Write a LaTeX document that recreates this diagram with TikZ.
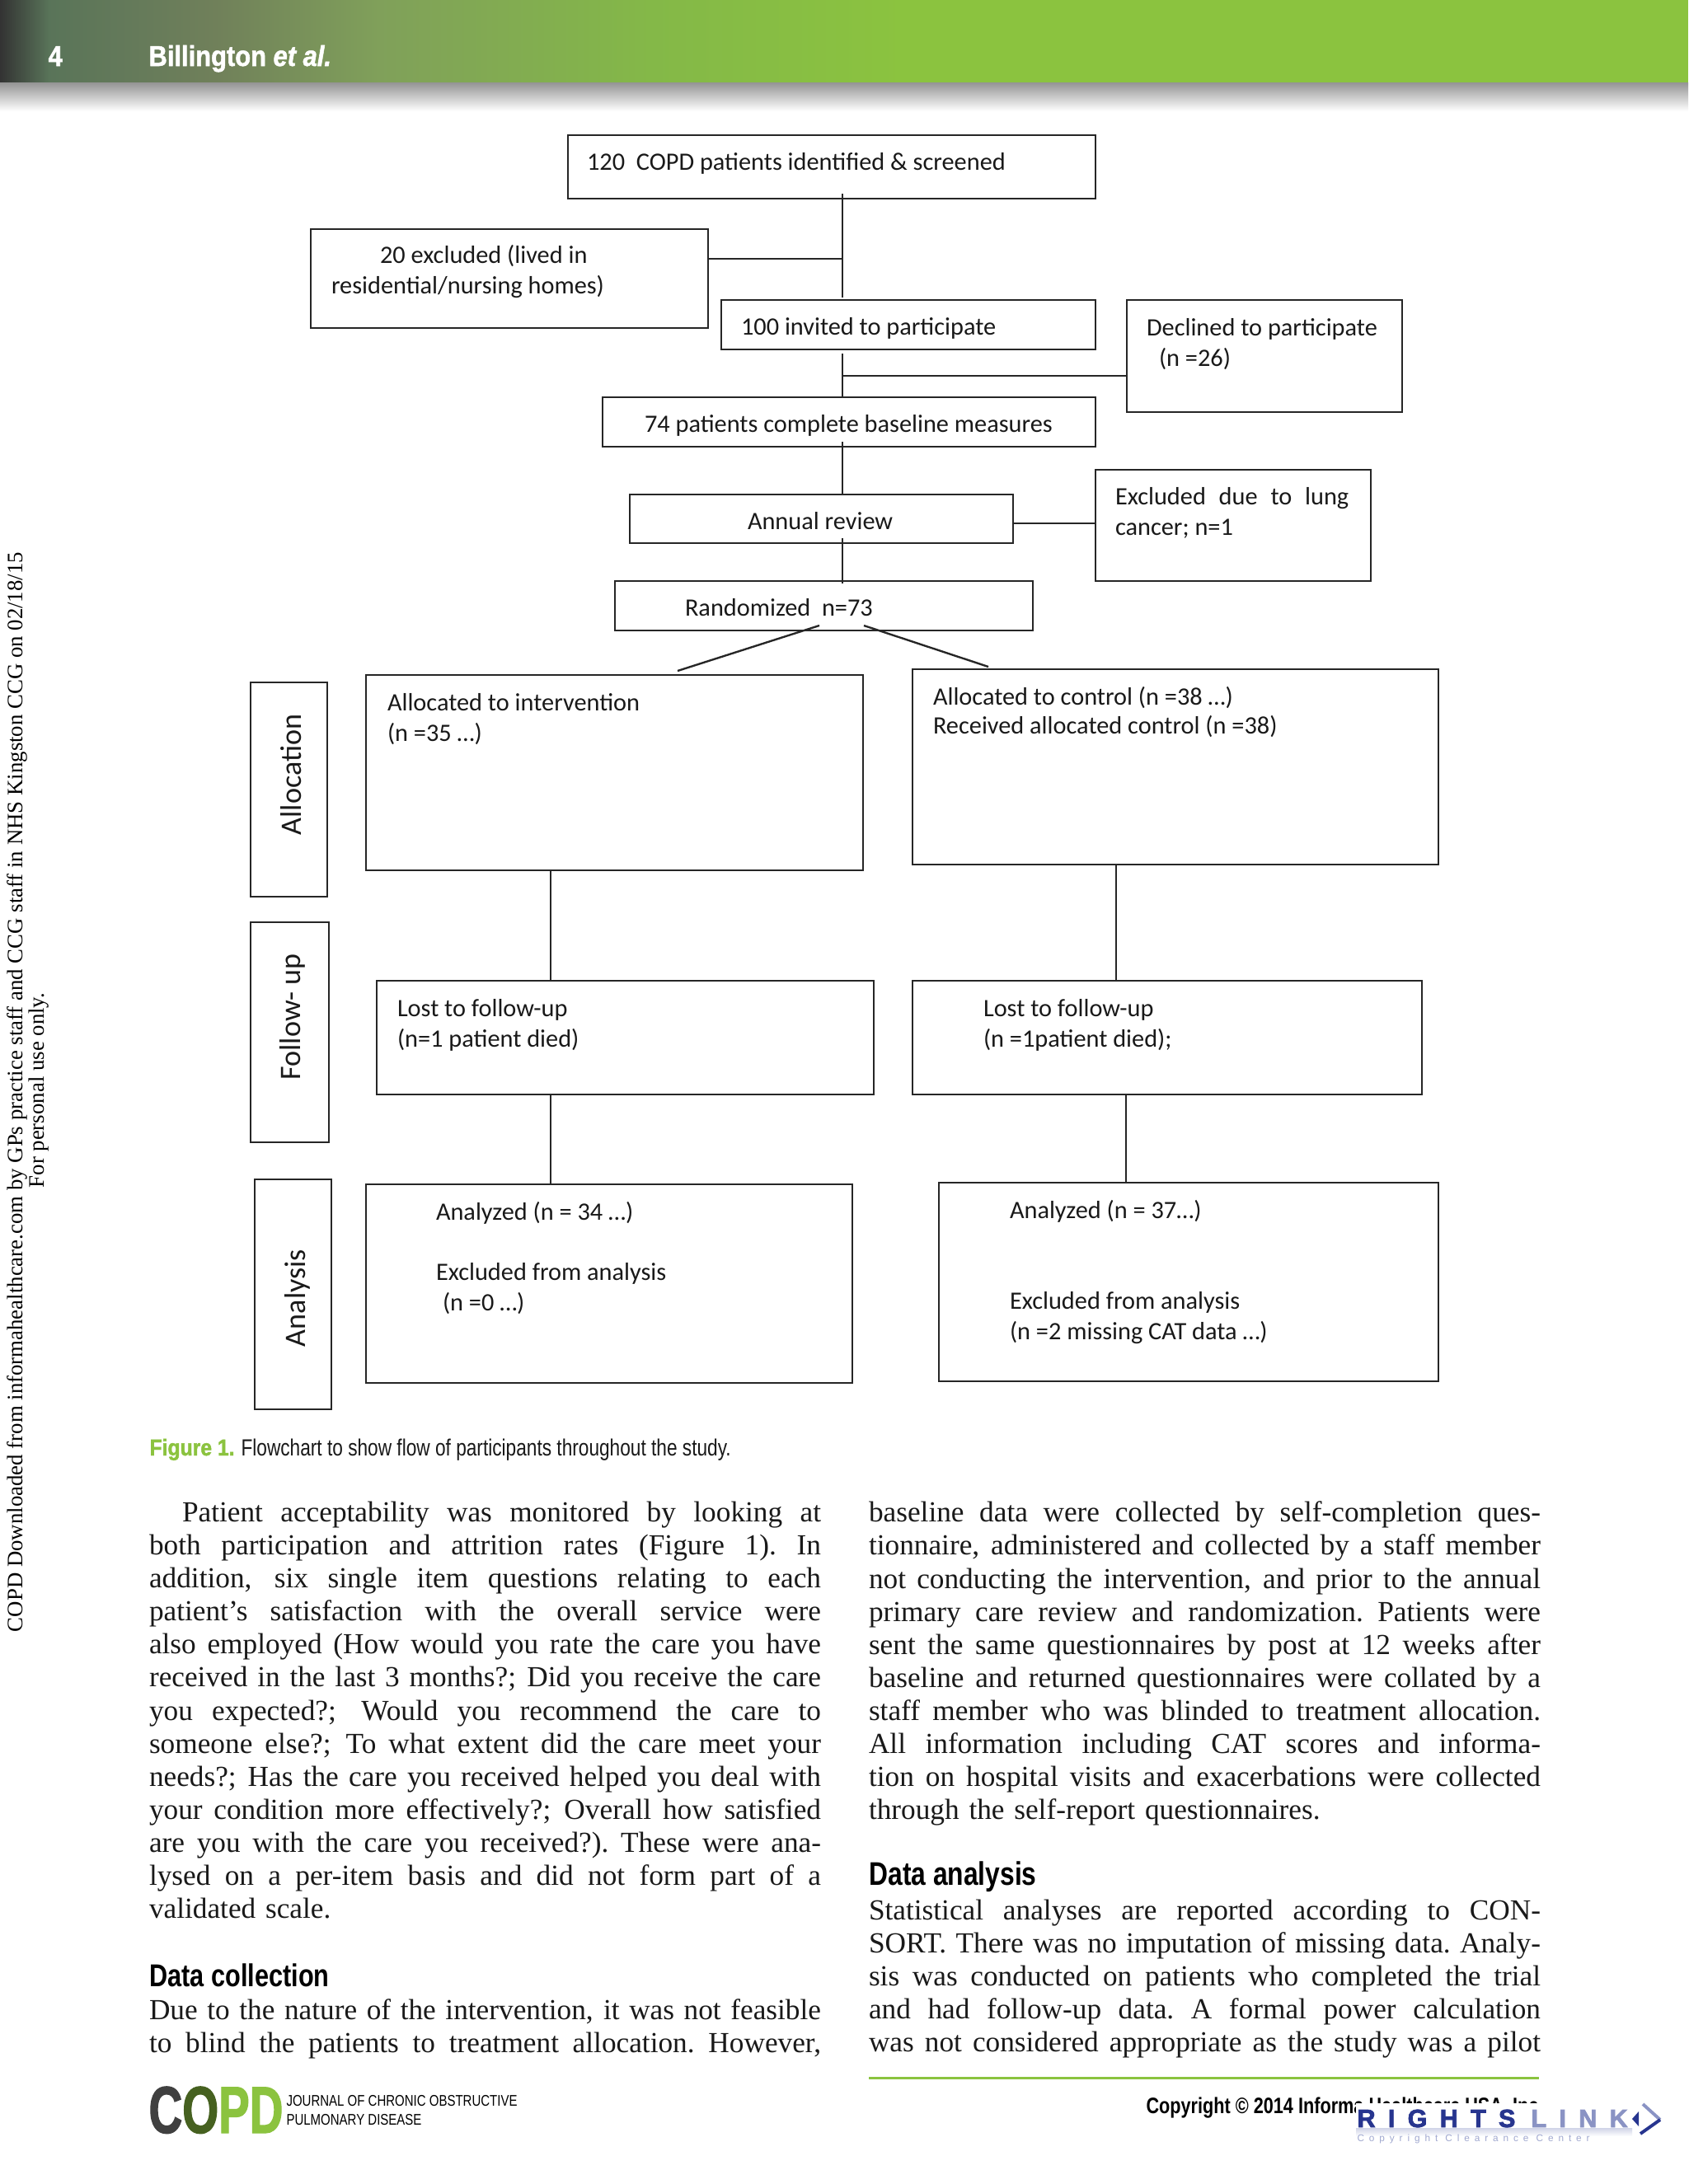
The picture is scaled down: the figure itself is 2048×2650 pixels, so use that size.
\documentclass[tikz,border=0pt]{standalone}
\usepackage{fontspec}
\setmainfont{Liberation Serif}
\newfontfamily\dg{Carlito}
\newfontfamily\cnd[FakeStretch=0.8]{Liberation Sans}
\newfontfamily\hdf[FakeStretch=0.89,BoldFeatures={FakeBold=1.5},BoldItalicFeatures={FakeBold=1.5}]{Liberation Sans}
\newfontfamily\cndx[FakeStretch=0.70,BoldFeatures={FakeBold=1.5}]{Liberation Sans}
\newfontfamily\rlk[LetterSpace=50,BoldFeatures={FakeBold=2.5}]{Liberation Sans}
\newfontfamily\rlc[LetterSpace=50]{Liberation Sans}
\newfontfamily\bodyf[Ligatures=TeX]{Liberation Serif}
\definecolor{hgreen}{HTML}{8BC33F}
\definecolor{rlblue}{HTML}{27358F}
\definecolor{rllight}{HTML}{8A93C4}
\newcommand{\jl}[1]{\hbox to 293.4pt{\spaceskip=0.25em plus 1fil minus 0.07em\relax\xspaceskip=\spaceskip #1}}
\newcommand{\jn}[1]{\hbox{#1}}
\newcommand{\bx}[5]{\node[boxst,minimum width={(#4-#2)*0.36pt},minimum height={(#5-#3)*0.36pt}] (#1) at (#2,#3) {};}
\tikzset{
  boxst/.style={draw=black!85,line width=0.85pt,anchor=north west,inner sep=0pt,outer sep=0pt},
  conn/.style={draw=black!85,line width=0.85pt},
  txt/.style={anchor=base west,inner sep=0pt,outer sep=0pt,font=\dg\fontsize{10.92pt}{13.3pt}\selectfont,text=black!90},
  side/.style={anchor=center,rotate=90,inner sep=0pt,font=\dg\fontsize{13pt}{15pt}\selectfont,text=black!90},
  bodytxt/.style={anchor=north west,inner sep=0pt,outer sep=0pt,text width=293.4pt,font=\bodyf\fontsize{12.7pt}{14.43pt}\selectfont,text=black!90},
  headg/.style={anchor=base west,inner sep=0pt,font=\cnd\bfseries\fontsize{13.8pt}{15pt}\selectfont},
  margintxt/.style={anchor=center,rotate=90,inner sep=0pt,font=\rmfamily\fontsize{9.65pt}{11pt}\selectfont},
}
\begin{document}
\begin{tikzpicture}[x=0.36pt,y=-0.36pt]
\useasboundingbox (0,0) rectangle (2048,2650);
\fill[white] (0,0) rectangle (2048,2650);
% header band
\shade[left color=black!80,right color=black!65!green!30!gray] (0,0) rectangle (60,100);
\shade[left color=black!65!green!30!gray,right color={rgb,255:red,112;green,128;blue,90}] (59,0) rectangle (262,100);
\shade[left color={rgb,255:red,112;green,128;blue,90},right color={rgb,255:red,128;green,160;blue,90}] (261,0) rectangle (460,100);
\shade[left color={rgb,255:red,128;green,160;blue,90},right color={rgb,255:red,132;green,184;blue,72}] (459,0) rectangle (790,100);
\shade[left color={rgb,255:red,132;green,184;blue,72},right color=hgreen] (789,0) rectangle (1100,100);
\fill[hgreen] (1099,0) rectangle (2048,100);
\shade[top color=black!42,bottom color=white] (0,100) rectangle (2048,135);
\node[anchor=base west,inner sep=0pt,text=white,font=\hdf\bfseries\fontsize{12.5pt}{14pt}\selectfont] (pageno) at (58,80) {4};
\node[anchor=base west,inner sep=0pt,text=white,font=\hdf\bfseries\fontsize{12.5pt}{14pt}\selectfont] (author) at (180,80) {Billington \textit{et al.}};
% flowchart boxes
\bx{scr}{689}{164}{1329}{241}
\bx{exc}{377}{278}{859}{398}
\bx{inv}{875}{364}{1329}{424}
\bx{dec}{1367}{364}{1701}{500}
\bx{bas}{731}{482}{1329}{542}
\bx{ann}{764}{600}{1229}{659}
\bx{lung}{1329}{570}{1663}{705}
\bx{ran}{746}{705}{1253}{765}
\bx{ali}{444}{819}{1047}{1056}
\bx{alc}{1107}{812}{1745}{1049}
\bx{lfi}{457}{1190}{1060}{1328}
\bx{lfc}{1107}{1190}{1725}{1328}
\bx{ani}{444}{1437}{1034}{1678}
\bx{anc}{1139}{1435}{1745}{1676}
\bx{sal}{304}{828}{397}{1088}
\bx{sfo}{304}{1119}{399}{1386}
\bx{san}{309}{1431}{402}{1710}
% connector guide positions
\coordinate (vm) at (1022,0);
\coordinate (vi) at (668,0);
\coordinate (vc) at (1354,0);
\coordinate (vd) at (1366,0);
\coordinate (hexc) at (0,314);
\coordinate (hdec) at (0,456);
\coordinate (hlung) at (0,635);
\coordinate (rl) at (994,759);
\coordinate (rr) at (1048,759);
\coordinate (tl) at (822,814);
\coordinate (tr) at (1199,809);
\draw[conn] ([yshift=2pt]scr.south -| vm) -- ([yshift=1pt]inv.north -| vm);
\draw[conn] (exc.east |- hexc) -- (vm |- hexc);
\draw[conn] ([yshift=-1.8pt]inv.south -| vm) -- (bas.north -| vm);
\draw[conn] (dec.west |- hdec) -- (vm |- hdec);
\draw[conn] ([yshift=2pt]bas.south -| vm) -- (ann.north -| vm);
\draw[conn] (ann.east |- hlung) -- (lung.west |- hlung);
\draw[conn] ([yshift=2pt]ann.south -| vm) -- ([yshift=-1pt]ran.north -| vm);
\draw[conn] (rl) -- (tl);
\draw[conn] (rr) -- (tr);
\draw[conn] (ali.south -| vi) -- (lfi.north -| vi);
\draw[conn] (alc.south -| vc) -- (lfc.north -| vc);
\draw[conn] (lfi.south -| vi) -- (ani.north -| vi);
\draw[conn] (lfc.south -| vd) -- (anc.north -| vd);
% flowchart text
\node[txt] (t1) at (712,206) {120\ \ COPD patients identified \& screened};
\node[txt] (t2) at (461,319) {20 excluded (lived in};
\node[txt] (t2b) at (402,356) {residential/nursing homes)};
\node[txt] (t3) at (899,406) {100 invited to participate};
\node[txt] (t4) at (1391,407) {Declined to participate};
\node[txt] (t4b) at (1406,444) {(n =26)};
\node[txt] (t5) at (782,524) {74 patients complete baseline measures};
\node[txt] (t6) at (907,642) {Annual review};
\node[txt] (t7) at (1353,612) {\hbox to 102pt{Excluded due to lung}};
\node[txt] (t7b) at (1353,649) {cancer; n=1};
\node[txt] (t8) at (831,747) {Randomized\ \ n=73};
\node[txt] (t9) at (470,862) {Allocated to intervention};
\node[txt] (t9b) at (470,899) {(n =35 …)};
\node[txt] (t10) at (1132,855) {Allocated to control (n =38 …)};
\node[txt] (t10b) at (1132,890) {Received allocated control (n =38)};
\node[txt] (t11) at (482,1233) {Lost to follow-up};
\node[txt] (t11b) at (482,1270) {(n=1 patient died)};
\node[txt] (t12) at (1193,1233) {Lost to follow-up};
\node[txt] (t12b) at (1193,1270) {(n =1patient died);};
\node[txt] (t13) at (529,1480) {Analyzed (n = 34 …)};
\node[txt] (t13b) at (529,1553) {Excluded from analysis};
\node[txt] (t13c) at (537,1590) {(n =0 …)};
\node[txt] (t14) at (1225,1478) {Analyzed (n = 37…)};
\node[txt] (t14b) at (1225,1588) {Excluded from analysis};
\node[txt] (t14c) at (1225,1625) {(n =2 missing CAT data …)};
\node[side] (l1) at (353,940) {Allocation};
\node[side] (l2) at (355,1234) {Follow- up};
\node[side] (l3) at (361,1575) {Analysis};
% caption
\node[anchor=base west,inner sep=0pt,text=hgreen,font=\hdf\bfseries\fontsize{10pt}{12pt}\selectfont] (figl) at (181,1766) {Figure 1.};
\node[anchor=base west,inner sep=0pt,font=\cnd\fontsize{10.2pt}{12pt}\selectfont,text=black!90] (figc) at (292,1766) {Flowchart to show flow of participants throughout the study.};
% body left
\node[bodytxt] (bl1) at (181,1822) {%
\jl{\hspace*{14.4pt}Patient acceptability was monitored by looking at}
\jl{both participation and attrition rates (Figure 1). In}
\jl{addition, six single item questions relating to each}
\jl{patient’s satisfaction with the overall service were}
\jl{also employed (How would you rate the care you have}
\jl{received in the last 3 months?; Did you receive the care}
\jl{you expected?; Would you recommend the care to}
\jl{someone else?; To what extent did the care meet your}
\jl{needs?; Has the care you received helped you deal with}
\jl{your condition more effectively?; Overall how satisfied}
\jl{are you with the care you received?). These were ana-}
\jl{lysed on a per-item basis and did not form part of a}
\jn{validated scale.}};
\node[headg] (hd1) at (181,2410) {Data collection};
\node[bodytxt] (bl2) at (181,2426) {%
\jl{Due to the nature of the intervention, it was not feasible}
\jl{to blind the patients to treatment allocation. However,}};
% body right
\node[bodytxt] (br1) at (1054,1822) {%
\jl{baseline data were collected by self-completion ques-}
\jl{tionnaire, administered and collected by a staff member}
\jl{not conducting the intervention, and prior to the annual}
\jl{primary care review and randomization. Patients were}
\jl{sent the same questionnaires by post at 12 weeks after}
\jl{baseline and returned questionnaires were collated by a}
\jl{staff member who was blinded to treatment allocation.}
\jl{All information including CAT scores and informa-}
\jl{tion on hospital visits and exacerbations were collected}
\jn{through the self-report questionnaires.}};
\node[headg,font=\cnd\bfseries\fontsize{14.3pt}{15pt}\selectfont] (hd2) at (1054,2287) {Data analysis};
\node[bodytxt] (br2) at (1054,2305) {%
\jl{Statistical analyses are reported according to CON-}
\jl{SORT. There was no imputation of missing data. Analy-}
\jl{sis was conducted on patients who completed the trial}
\jl{and had follow-up data. A formal power calculation}
\jl{was not considered appropriate as the study was a pilot}};
% margin
\node[margintxt] (m1) at (21,1325) {COPD Downloaded from informahealthcare.com by GPs practice staff and CCG staff in NHS Kingston CCG on 02/18/15};
\node[margintxt] (m2) at (47,1323) {For personal use only.};
% footer
\fill[hgreen] (1054,2519.5) rectangle (1867,2522.5);
\node[anchor=base west,inner sep=0pt,font=\cndx\bfseries\fontsize{29pt}{30pt}\selectfont] (copd) at (180,2588) {\textcolor{black!75}{C}\textcolor{black!50!hgreen}{O}\textcolor{hgreen}{PD}};
\node[anchor=base west,inner sep=0pt,font=\cnd\fontsize{6.75pt}{8pt}\selectfont] (jn1) at (347,2555) {JOURNAL OF CHRONIC OBSTRUCTIVE};
\node[anchor=base west,inner sep=0pt,font=\cnd\fontsize{6.75pt}{8pt}\selectfont] (jn2) at (347,2578) {PULMONARY DISEASE};
\node[anchor=base east,inner sep=0pt,font=\cnd\bfseries\fontsize{9.75pt}{11pt}\selectfont] (cpr) at (1867,2564) {Copyright © 2014 Informa Healthcare USA, Inc};
\fill[white] (1645,2552) rectangle (2020,2610);
\shade[top color=rllight!40,bottom color=white] (1645,2582) rectangle (1980,2592);
\node[anchor=base west,inner sep=0pt,text=rlblue,font=\rlk\bfseries\fontsize{11pt}{12pt}\selectfont] (rl1) at (1646,2581) {RIGHTS};
\node[anchor=base west,inner sep=0pt,text=rllight,font=\rlk\bfseries\fontsize{11pt}{12pt}\selectfont] (rl2) at (1857,2581) {LINK};
\draw[rllight,line width=1.4pt] (1993,2553) -- (2014,2572);
\draw[rlblue,line width=1.4pt] (2014,2572) -- (1990,2589);
\fill[rlblue] (1980,2571) -- (1988,2562) -- (1988,2580) -- cycle;
\node[anchor=base west,inner sep=0pt,text=rllight!80,font=\rlc\fontsize{4.25pt}{5pt}\selectfont] (rl3) at (1646,2598) {Copyright Clearance Center};
\end{tikzpicture}
\end{document}
